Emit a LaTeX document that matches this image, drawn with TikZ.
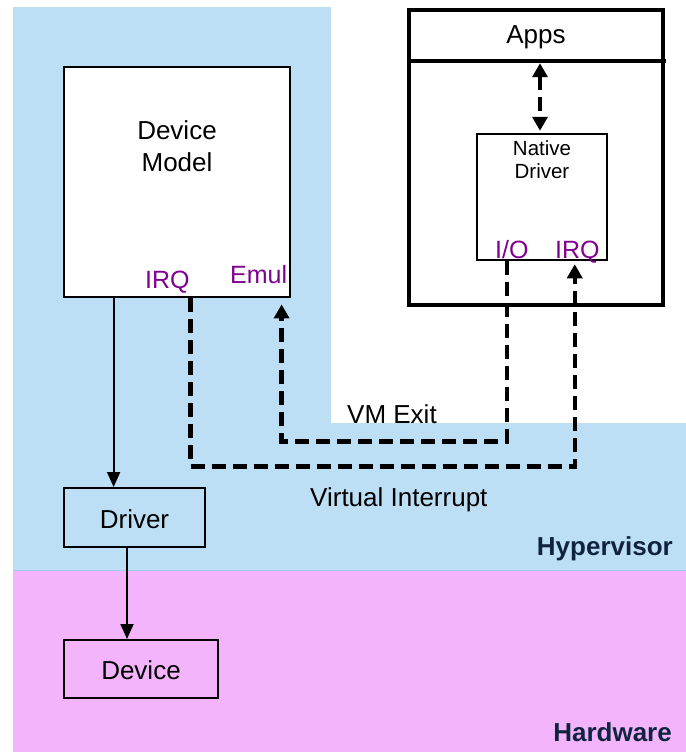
\documentclass[tikz,border=0pt]{standalone}
\usepackage{fontspec}
\setmainfont{Liberation Sans}
\usetikzlibrary{arrows.meta}

\definecolor{hvblue}{RGB}{189,223,245}
\definecolor{hvedge}{RGB}{168,200,240}
\definecolor{hwpink}{RGB}{244,180,252}
\definecolor{portpurple}{RGB}{128,0,144}
\definecolor{layernavy}{RGB}{16,36,64}

\tikzset{
  box/.style={draw=black, line width=2.5pt, inner sep=0pt},
  whitebox/.style={box, fill=white},
  lbl/.style={font=\fontsize{26pt}{30pt}\selectfont, inner sep=0pt, anchor=base},
  smalllbl/.style={font=\fontsize{20.5pt}{23pt}\selectfont, inner sep=0pt, anchor=base},
  portlbl/.style={font=\fontsize{25pt}{30pt}\selectfont, inner sep=0pt, text=portpurple, anchor=base west},
  layerlbl/.style={font=\fontsize{26pt}{30pt}\selectfont\bfseries, text=layernavy, inner sep=0pt, anchor=base east},
  solidarrow/.style={line width=1.8pt, -{Triangle[width=13pt,length=15pt]}},
  dashline/.style={line width=4.5pt, dash pattern=on 14pt off 7pt, line join=miter},
  dasharrow/.style={dashline, -{Triangle[width=15pt,length=14pt]}},
  dashdouble/.style={dashline, {Triangle[width=15pt,length=14pt]}-{Triangle[width=15pt,length=14pt]}},
}

\begin{document}
\begin{tikzpicture}[x=1pt, y=-1pt]
\useasboundingbox (0,0) rectangle (686,753);

% layers
\fill[hvblue] (13,7) -- (331,7) -- (331,423) -- (686,423) -- (686,570) -- (13,570) -- cycle;
\fill[hwpink] (13,570) rectangle (686,752);
\draw[hvedge, line width=0.8pt] (13,570) -- (686,570);
\node[layerlbl] (hvname) at (673,555) {Hypervisor};
\node[layerlbl] (hwname) at (672,741) {Hardware};

% device model in the service VM
\node[whitebox, line width=2.8pt, minimum width=226pt, minimum height=230pt] (dm) at (177,182) {};
\node[lbl] (dmline1) at (177,139) {Device};
\node[lbl] (dmline2) at (177,171) {Model};
\node[portlbl] (dmirq) at (145,288) {IRQ};
\node[portlbl] (dmemul) at (230,283) {Emul};

% hypervisor driver and physical device
\node[box, line width=2pt, minimum width=141pt, minimum height=59pt] (drv) at (134.5,517.5) {};
\node[lbl] (drvname) at (134.5,528) {Driver};
\node[box, line width=2pt, minimum width=154pt, minimum height=58pt] (dev) at (141,669) {};
\node[lbl] (devname) at (141,679) {Device};

% guest VM with apps and native driver
\node[whitebox, line width=4pt, minimum width=254pt, minimum height=295pt] (guest) at (536,157.5) {};
\node[inner sep=0pt, minimum width=254pt, minimum height=51pt] (apps) at (536,35.5) {};
\node[lbl] (appsname) at (536,43) {Apps};
\draw[line width=4pt] (apps.south west) -- ([xshift=3pt]apps.south east);
\node[whitebox, minimum width=130pt, minimum height=126pt] (nd) at (542,197) {};
\node[smalllbl] (ndline1) at (542,155) {Native};
\node[smalllbl] (ndline2) at (542,178) {Driver};
\node[portlbl] (ndio) at (495,258) {I/O};
\node[portlbl] (ndirq) at (555,258) {IRQ};

% connectors
\draw[solidarrow] ([xshift=51pt]dm.south west) -- ([xshift=51pt]dm.south west |- drv.north);
\draw[solidarrow] ([xshift=64pt]drv.south west) -- ([xshift=64pt]drv.south west |- dev.north);
\draw[dashdouble] ([xshift=4pt,yshift=-2pt]apps.south) -- ([xshift=4pt,yshift=2pt]apps.south |- nd.north);
\draw[dasharrow] ([xshift=31pt]nd.south west) -- ++(0,180) -| ([xshift=219pt,yshift=-6pt]dm.south west);
\draw[dasharrow] ([xshift=128pt]dm.south west) -- ++(0,168) -| ([xshift=99pt,yshift=-3pt]nd.south west);

% path labels
\node[lbl, anchor=base west] (vmexit) at (347,423) {VM Exit};
\node[lbl, anchor=base west] (virq) at (310,506) {Virtual Interrupt};
\end{tikzpicture}
\end{document}
